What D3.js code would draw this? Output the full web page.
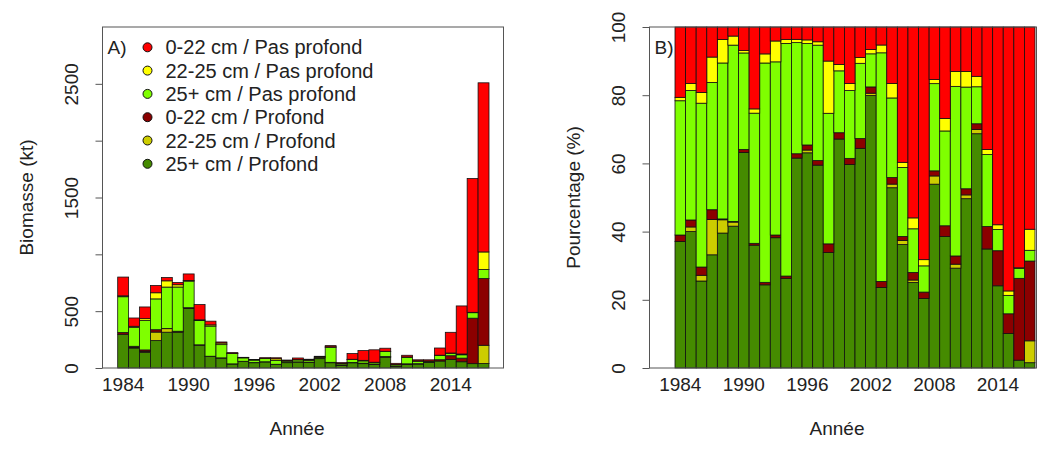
<!DOCTYPE html>
<html>
<head>
<meta charset="utf-8">
<script src="https://cdn.jsdelivr.net/npm/d3@7"></script>
<style>
  body { margin: 0; background: #fff; }
  svg text { font-family: "Liberation Sans", Arial, sans-serif; fill: #222; }
</style>
</head>
<body>
<div class="container"></div>
<script>
// years 1984-2017
const years = [1984, 1985, 1986, 1987, 1988, 1989, 1990, 1991, 1992, 1993, 1994, 1995,
  1996, 1997, 1998, 1999, 2000, 2001, 2002, 2003, 2004, 2005, 2006, 2007, 2008, 2009,
  2010, 2011, 2012, 2013, 2014, 2015, 2016, 2017];
const yearLabels = [1984, 1990, 1996, 2002, 2008, 2014];

// biomasse (kt) par groupe
const deep25 = [297, 176, 137, 241, 315, 313, 523, 201, 100.5, 87.5, 35.5, 57.8, 46.7, 53.6, 30.5, 47.0,
  52.5, 49.6, 82.3, 46.5, 24.9, 46.0, 38.4, 32.6, 93.8, 15.8, 32.8, 35.8, 49.4, 61.4, 75.7, 55.1, 38.3, 39];
const deep2225 = [0, 6, 9, 75, 31, 9, 0, 0, 0, 0, 0, 0, 0.6, 0, 0, 0, 0, 0, 0.7, 0, 0.5, 1.5, 1.1, 0,
  4.2, 0, 1.3, 0.8, 0.9, 0, 0, 0, 0, 161];
const deep022 = [15, 9, 13, 21, 2, 1.5, 7.5, 3, 3, 1.8, 0.9, 1.2, 1.1, 1.2, 2.3, 1.3, 1.6, 2.2, 1.9, 3.5,
  0.9, 1.5, 3.4, 3.0, 2.6, 1.3, 2.7, 1.3, 1.2, 11.6, 32.3, 31.7, 400, 587];
const shal25 = [315, 167, 258, 271, 364, 389, 234, 213, 265, 116.3, 92.1, 30.6, 22.0, 30.5, 34.5, 12.7,
  17.5, 17.0, 10.0, 132.0, 11.0, 25.7, 19.6, 12.3, 44.5, 11.4, 55.7, 21.5, 7.8, 37.1, 19.5, 29.5, 48.3, 79];
const shal2225 = [8, 9, 17, 54, 55, 20, 6, 7, 11, 14, 1.6, 0.9, 0.8, 0.9, 13.8, 1.3, 1.8, 1.3, 1.3, 4.5,
  2.0, 1.9, 4.9, 2.9, 2.1, 1.5, 4.9, 3.3, 2.2, 2.6, 4.4, 7.1, 3.3, 155];
const shal022 = [165, 73, 103, 64, 29, 20, 57, 134, 32.5, 9.4, 4.9, 3.4, 2.8, 3.9, 9.0, 7.7, 14.6, 6.9,
  6.8, 10.4, 7.8, 50.4, 85.7, 109.1, 26.8, 11.0, 14.6, 9.4, 10.4, 63.2, 182.1, 422.6, 1177, 1488];

const keys = ['deep25', 'deep2225', 'deep022', 'shal25', 'shal2225', 'shal022'];
const colors = {deep25: '#458B00', deep2225: '#CDCD00', deep022: '#8B0000',
  shal25: '#7FFF00', shal2225: '#FFFF00', shal022: '#FF0000'};
const legendKeys = ['shal022', 'shal2225', 'shal25', 'deep022', 'deep2225', 'deep25'];
const legendLabels = ['0-22 cm / Pas profond', '22-25 cm / Pas profond', '25+ cm / Pas profond',
  '0-22 cm / Profond', '22-25 cm / Profond', '25+ cm / Profond'];

const rows = years.map((y, i) => ({
  year: y, deep25: deep25[i], deep2225: deep2225[i], deep022: deep022[i],
  shal25: shal25[i], shal2225: shal2225[i], shal022: shal022[i]
}));

const config = {w: 1037, h: 462, top: 27, bottom: 368, font: 19, legendFont: 20};

const svg = d3.select('.container').append('svg')
  .attr('width', config.w)
  .attr('height', config.h);

const panels = [
  {tag: 'A)', box: [102.5, 503.5], bars: [117.7, 489],
   y: d3.scaleLinear().domain([0, 3000]).range([config.bottom, config.top]),
   stack: d3.stack().keys(keys),
   ticks: [0, 500, 1000, 1500, 2000, 2500], fmt: d => (d === 1000 || d === 2000) ? '' : d,
   title: 'Biomasse (kt)', legend: true},
  {tag: 'B)', box: [649.5, 1036.5], bars: [675, 1035],
   y: d3.scaleLinear().domain([0, 1]).range([config.bottom, config.top]),
   stack: d3.stack().keys(keys).offset(d3.stackOffsetExpand),
   ticks: [0, 0.2, 0.4, 0.6, 0.8, 1], fmt: d => Math.round(d * 100),
   title: 'Pourcentage (%)', legend: false}
];

panels.forEach(p => {
  const g = svg.append('g');
  const x = d3.scaleBand().domain(years).range(p.bars).padding(0);

  g.selectAll('g.layer')
    .data(p.stack(rows))
    .enter().append('g')
      .attr('class', 'layer')
      .attr('fill', d => colors[d.key])
    .selectAll('rect')
    .data(d => d)
    .enter().append('rect')
      .attr('x', d => x(d.data.year))
      .attr('width', x.bandwidth())
      .attr('y', d => p.y(d[1]))
      .attr('height', d => p.y(d[0]) - p.y(d[1]))
      .attr('stroke', '#111')
      .attr('stroke-width', 0.8);

  // cadre
  g.append('rect')
    .attr('x', p.box[0]).attr('y', config.top)
    .attr('width', p.box[1] - p.box[0]).attr('height', config.bottom - config.top)
    .attr('fill', 'none').attr('stroke', '#555').attr('stroke-width', 1);

  // axe y
  const ax = g.append('g')
    .attr('transform', `translate(${p.box[0]},0)`)
    .call(d3.axisLeft(p.y).tickValues(p.ticks).tickSize(7).tickFormat(p.fmt));
  ax.select('.domain').remove();
  ax.selectAll('line').attr('stroke', '#555');
  ax.selectAll('text')
    .attr('x', null).attr('dy', null)
    .attr('font-size', config.font)
    .attr('text-anchor', 'middle')
    .attr('transform', 'translate(-25,0) rotate(-90)');

  // annees
  g.selectAll('text.year')
    .data(yearLabels)
    .enter().append('text')
      .attr('class', 'year')
      .attr('x', d => x(d) + x.bandwidth() / 2)
      .attr('y', 391)
      .attr('text-anchor', 'middle')
      .attr('font-size', config.font)
      .text(d => d);

  g.append('text')
    .attr('x', (p.box[0] + p.box[1]) / 2 - 6)
    .attr('y', 435)
    .attr('text-anchor', 'middle')
    .attr('font-size', config.font)
    .text('Année');

  g.append('text')
    .attr('transform', `translate(${p.box[0] - 70},${(config.top + config.bottom) / 2}) rotate(-90)`)
    .attr('text-anchor', 'middle')
    .attr('font-size', config.font)
    .text(p.title);

  g.append('text')
    .attr('x', p.box[0] + 5)
    .attr('y', 54)
    .attr('font-size', config.font)
    .text(p.tag);

  if (p.legend) {
    const lg = g.selectAll('g.item')
      .data(legendKeys)
      .enter().append('g')
        .attr('class', 'item')
        .attr('transform', (d, i) => `translate(${p.box[0] + 45},${47.3 + 23.3 * i})`);
    lg.append('circle')
      .attr('r', 4.5)
      .attr('fill', d => colors[d])
      .attr('stroke', '#111');
    lg.append('text')
      .attr('x', 18)
      .attr('y', 7)
      .attr('font-size', config.legendFont)
      .text((d, i) => legendLabels[i]);
  }
});
</script>
</body>
</html>
